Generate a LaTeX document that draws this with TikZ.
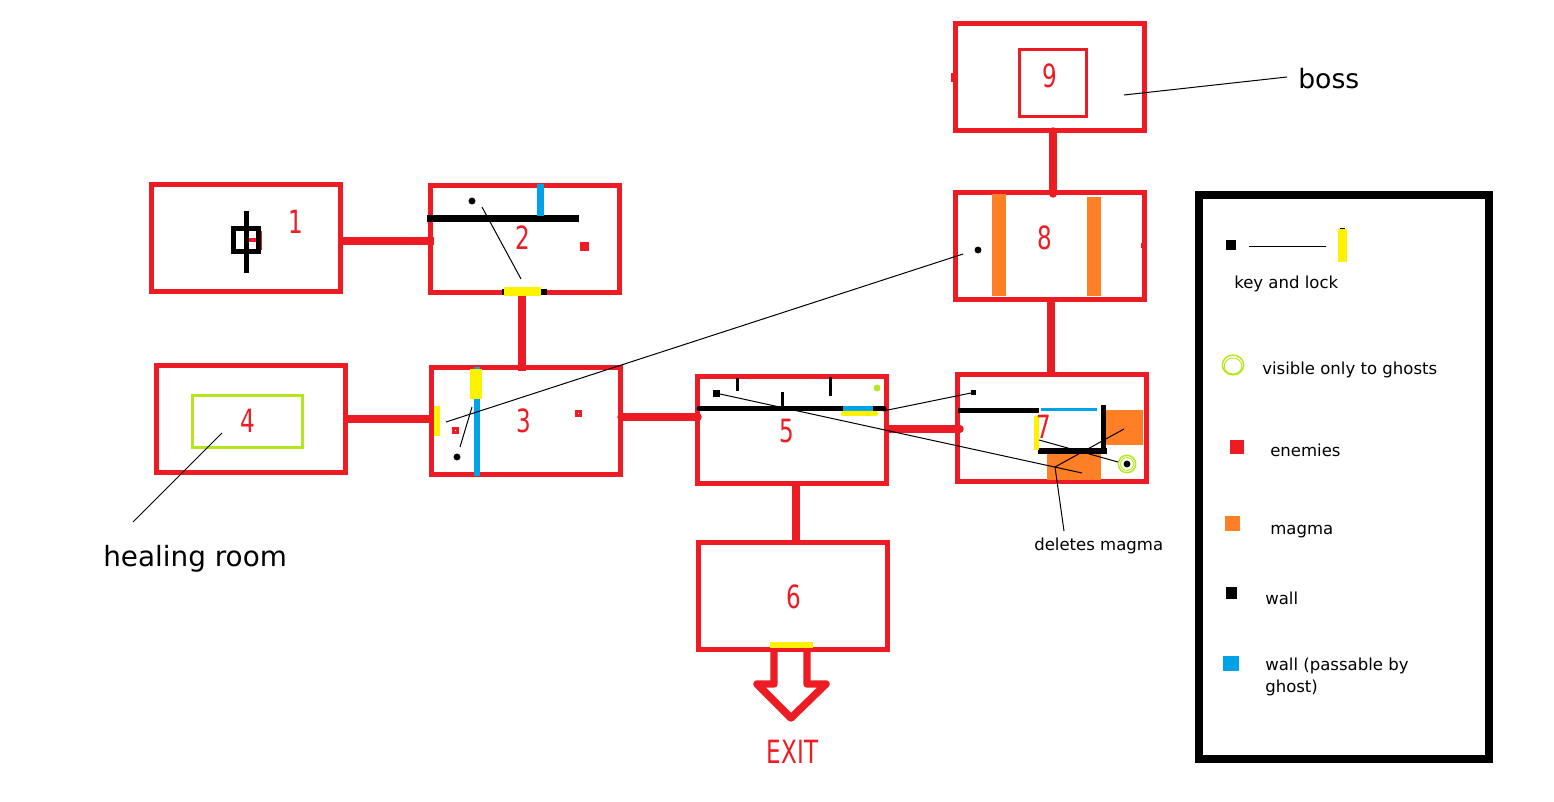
\documentclass[tikz,border=0pt]{standalone}
\usepackage{fontspec}
\setmainfont{DejaVu Sans}
\usetikzlibrary{positioning,shapes}
\definecolor{roomred}{HTML}{ED1C24}
\definecolor{lime}{HTML}{B5E61D}
\definecolor{magma}{HTML}{FF7F27}
\definecolor{ghostwall}{HTML}{00A2E8}
\definecolor{lockyellow}{HTML}{FFF200}
\tikzset{
  room/.style={draw=roomred,line width=3.75pt,minimum width=141.75pt,minimum height=80.25pt,inner sep=0pt},
  digit/.style={text=roomred,font=\fontsize{24}{24}\selectfont,xscale=0.72,inner sep=0pt},
  door/.style={draw=roomred,line width=5.6pt},
  note/.style={font=\fontsize{12.4}{16.5}\selectfont,inner sep=0pt,anchor=west,align=left},
  bignote/.style={font=\fontsize{20}{24}\selectfont,inner sep=0pt,anchor=west},
  thinline/.style={draw=black,line width=0.75pt},
  wall/.style={draw=black,line width=3.75pt},
  key/.style={fill=black}
}

\begin{document}
\begin{tikzpicture}[x=0.75pt,y=-0.75pt]
  \useasboundingbox (0,0) rectangle (1554,802);

  % rooms
  \node[room] (1) at (246,238) {};
  \node[room] (2) at (525,239) {};
  \node[room] (3) at (526,421) {};
  \node[room] (4) at (251,419) {};
  \node[room] (5) at (792,430) {};
  \node[room] (6) at (793,596) {};
  \node[room] (7) at (1052,428) {};
  \node[room] (8) at (1050,246) {};
  \node[room] (9) at (1050,77) {};
  \node[draw=roomred,line width=2.25pt,minimum size=50.25pt,inner sep=0pt] (boss) at (1053,83) {};
  \node[draw=lime,line width=2.6pt,minimum width=82.5pt,minimum height=39pt,inner sep=0pt] (heal) at (247.5,421.5) {};
  \node[draw=black,line width=6pt,minimum width=217.5pt,minimum height=423pt,inner sep=0pt] (legend) at (1344,477) {};

  % doors
  \draw[door] ([shift={(0,3)}]1.east) -- ([shift={(6,2)}]2.west);
  \draw[door] ([shift={(-3,-6)}]2.south) -- ([shift={(-4,6)}]3.north);
  \draw[door] ([shift={(0,0)}]4.east) -- ([shift={(6,-2)}]3.west);
  \draw[door,line cap=round] ([shift={(-2,-4)}]3.east) -- ([shift={(3,-13)}]5.west);
  \draw[door,line cap=round] ([shift={(0,-1)}]5.east) -- ([shift={(5,1)}]7.west);
  \draw[door] ([shift={(4,0)}]5.south) -- ([shift={(3,5)}]6.north);
  \draw[door] ([shift={(1,0)}]8.south) -- ([shift={(-1,2)}]7.north);
  \draw[door,line cap=round] ([shift={(3,-2)}]9.south) -- ([shift={(3,4)}]8.north);
  \fill[roomred] (951,73) rectangle (954,82);
  \fill[roomred] (1141,243) rectangle (1144,248);

  % exit arrow
  \fill[lockyellow] (770,642) rectangle (813,648);
  \draw[door,line join=round] ([xshift=-14.25pt]6.south) -- (774,684) -- (757,684) -- (791,718) -- (826,684) -- (807,684) -- ([xshift=10.5pt]6.south);

  % room 1
  \fill[roomred] (249,238) rectangle (256,242);
  \fill[roomred] (260,231) rectangle (262,250);
  \draw[line width=3.75pt] (233.5,228.5) rectangle (258.5,251.5);
  \draw[line width=3.75pt] (246,211) -- (246,273);

  % room 2
  \fill[black] (502,289) rectangle (547,295);
  \fill[lockyellow] (504,287) rectangle (541,296);
  \draw[wall,line width=5.25pt] (427,218.5) -- (579,218.5);
  \fill[ghostwall] (537,184) rectangle (544,216);
  \fill[key] (472,201) circle (2.6pt);
  \fill[roomred] (580,242) rectangle (589,251);
  \coordinate (k2) at (482,207);
  \coordinate (l2) at (521,279);
  \draw[thinline] (k2) -- (l2);

  % room 3
  \fill[ghostwall] (474,367) rectangle (480,476);
  \fill[lockyellow] (470,369) rectangle (482,399);
  \fill[lockyellow] (434,406) rectangle (440,436);
  \fill[roomred] (452,427) rectangle (459,434);
  \fill[white] (455,430) rectangle (456,431);
  \fill[roomred] (575,410) rectangle (582,417);
  \fill[white] (578,413) rectangle (579,414);
  \fill[key] (457,457) circle (2.6pt);
  \coordinate (k3) at (460,447);
  \coordinate (l3) at (472,407);
  \draw[thinline] (k3) -- (l3);
  \coordinate (l8) at (446,422);
  \coordinate (k8) at (963,254);
  \draw[thinline] (l8) -- (k8);

  % room 5
  \fill[key] (713,390) rectangle (720,397);
  \draw[line width=2.25pt] (737,378) -- (737,391);
  \draw[line width=2.25pt] (782,392) -- (782,408);
  \draw[line width=2.25pt] (830,377) -- (830,396);
  \draw[wall,line cap=round] (699,408.5) -- (884,408.5);
  \fill[ghostwall] (843,406) rectangle (873,411);
  \fill[lockyellow,rounded corners=1.5pt] (841,411) rectangle (878,416);
  \fill[lime] (877,388) circle (2.6pt);
  \coordinate (l7) at (883,411);
  \coordinate (k7) at (971,393);
  \draw[thinline] (l7) -- (k7);

  % room 7
  \fill[key] (971,390) rectangle (976,395);
  \fill[magma] (1106,410) rectangle (1143,445);
  \fill[magma] (1047,453) rectangle (1101,480);
  \draw[wall] (958,411) -- (1039,411);
  \draw[ghostwall,line width=2.25pt] (1041,410) -- (1097,410);
  \draw[wall] (1103,405) -- (1103,453);
  \draw[wall,line width=4.5pt] (1038,451) -- (1107,451);
  \fill[lockyellow] (1034,416) rectangle (1039,450);
  \draw[lime,line width=1.1pt] (1127,464) circle (6.5pt);
  \draw[lime,line width=0.7pt] (1127,464) circle (4.8pt);
  \fill[key] (1127,464) circle (2.6pt);
  \coordinate (k5) at (720,394);
  \coordinate (l5) at (1082,473);
  \draw[thinline] (k5) -- (l5);
  \coordinate (g7) at (1039,440);
  \coordinate (g7b) at (1118,462);
  \draw[thinline] (g7) -- (g7b);
  \coordinate (m7) at (1124,429);
  \coordinate (m7b) at (1055,467);
  \coordinate (m7c) at (1064,531);
  \draw[thinline] (m7) -- (m7b) -- (m7c);

  % room 8
  \fill[magma] (992,194) rectangle (1006,296);
  \fill[magma] (1087,197) rectangle (1101,296);
  \fill[key] (978,250) circle (2.6pt);

  % numbers
  \node[digit] (n1) at (296,222) {1};
  \node[digit] (n2) at (523,238) {2};
  \node[digit] (n3) at (524,421) {3};
  \node[digit] (n4) at (248,421) {4};
  \node[digit] (n5) at (787,431) {5};
  \node[digit] (n6) at (794,597) {6};
  \node[digit] (n7) at (1044,427) {7};
  \node[digit] (n8) at (1045,238) {8};
  \node[digit] (n9) at (1050,76) {9};
  \node[digit] (exit) at (792.5,752) {EXIT};

  % notes on the map
  \node[bignote] (bosstext) at (1298,79) {boss};
  \coordinate (b9) at (1124,95);
  \coordinate (b9b) at (1287,77);
  \draw[thinline] (b9) -- (b9b);
  \node[bignote,font=\fontsize{20.9}{24}\selectfont] (healtext) at (103,559) {healing room};
  \coordinate (h4) at (222,433);
  \coordinate (h4b) at (133,522);
  \draw[thinline] (h4) -- (h4b);
  \node[note] (magmatext) at (1034,546) {deletes magma};

  % legend
  \fill[key] (1226,240) rectangle (1236,250);
  \coordinate (lk) at (1249,247);
  \coordinate (ll) at (1326,247);
  \draw[thinline] (lk) -- (ll);
  \fill[black] (1340,228) rectangle (1345,230);
  \fill[lockyellow] (1338,229) rectangle (1347,262);
  \node[note] (t1) at (1234,284) {key and lock};
  \draw[lime,line width=1.1pt] (1233,365) ellipse (8pt and 7.4pt);
  \draw[lime,line width=0.7pt] (1233,366) ellipse (6.6pt and 6pt);
  \node[note] (t2) at (1262,370) {visible only to ghosts};
  \fill[roomred] (1230,440) rectangle (1244,454);
  \node[note] (t3) at (1270,450) {enemies};
  \fill[magma] (1225,516) rectangle (1240,531);
  \node[note] (t4) at (1270,532) {magma};
  \fill[black] (1226,587) rectangle (1237,599);
  \node[note] (t5) at (1265,598) {wall};
  \fill[ghostwall] (1223,656) rectangle (1239,671);
  \node[note,anchor=north west] (t6) at (1265,658) {wall (passable by\\ghost)};

\end{tikzpicture}
\end{document}
